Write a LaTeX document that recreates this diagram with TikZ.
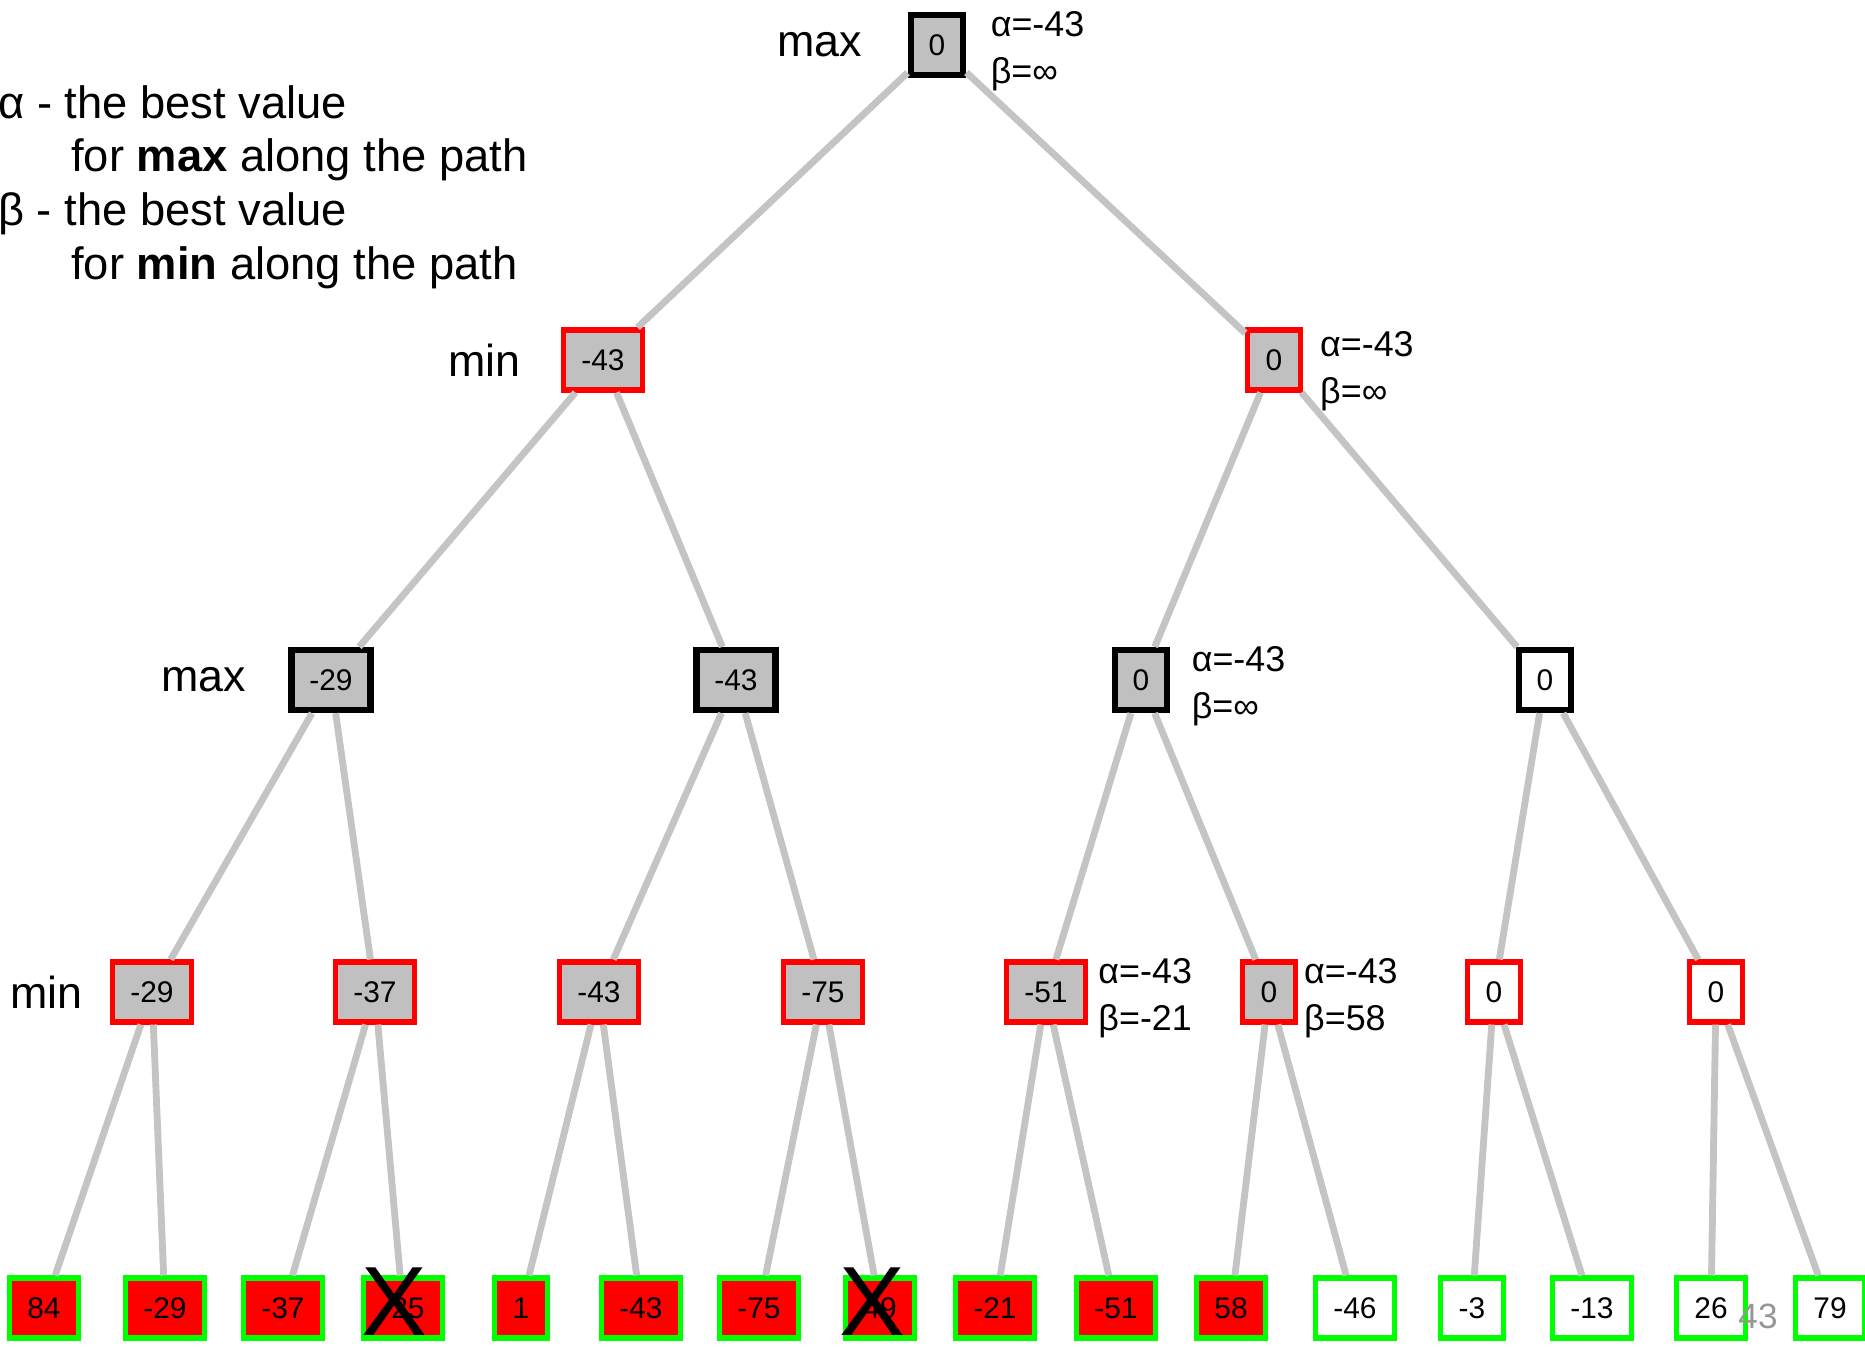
\documentclass[tikz,border=0pt]{standalone}
\usepackage{fontspec}
\setmainfont{Liberation Sans}
\usetikzlibrary{positioning}
\definecolor{boxgray}{RGB}{192,192,192}
\definecolor{linkgray}{RGB}{196,196,196}
\definecolor{leafgreen}{RGB}{0,255,0}
\definecolor{pagegray}{RGB}{150,150,150}
\tikzset{
  box/.style={rectangle, line width=2.9pt, minimum width=1.04cm, minimum height=1.2cm, inner xsep=0.36cm, font=\fontsize{17}{20}\selectfont},
  maxg/.style={box, draw=black, fill=boxgray, line width=3.6pt},
  maxw/.style={box, draw=black, fill=white, line width=3.6pt},
  ming/.style={box, draw=red, fill=boxgray},
  minw/.style={box, draw=red, fill=white},
  leafr/.style={box, draw=leafgreen, fill=red},
  leafw/.style={box, draw=leafgreen, fill=white},
  link/.style={draw=linkgray, line width=3.9pt},
  ab/.style={align=left, inner sep=0pt, yshift=-0.12cm, font=\fontsize{20.4}{26.5}\selectfont},
  lvl/.style={inner sep=0pt, font=\fontsize{25.5}{30}\selectfont},
  cut/.style={inner sep=0pt, font=\fontsize{56}{60}\selectfont}
}
\begin{document}
\begin{tikzpicture}[x=0.02cm, y=-0.02cm]
    \useasboundingbox (0,0) rectangle (1865,1347);
    % legend
    \node[anchor=north west, align=left, inner sep=0pt, font=\fontsize{25.8}{30.6}\selectfont] (key) at (-2,85)
      {α - the best value\\\hspace{1.46cm}for \textbf{max} along the path\\β - the best value\\\hspace{1.46cm}for \textbf{min} along the path};
    % tree
    \node[maxg] (r) at (937,45) {0};
    \node[ming] (a1) at (603,360) {-43};
    \node[ming] (a2) at (1274,360) {0};
    \node[maxg] (b1) at (331,680) {-29};
    \node[maxg] (b2) at (736,680) {-43};
    \node[maxg] (b3) at (1141,680) {0};
    \node[maxw] (b4) at (1545,680) {0};
    \node[ming] (c1) at (152,992) {-29};
    \node[ming] (c2) at (375,992) {-37};
    \node[ming] (c3) at (599,992) {-43};
    \node[ming] (c4) at (823,992) {-75};
    \node[ming] (c5) at (1046,992) {-51};
    \node[ming] (c6) at (1269,992) {0};
    \node[minw] (c7) at (1494,992) {0};
    \node[minw] (c8) at (1716,992) {0};
    \node[leafr] (d1) at (44,1308) {84};
    \node[leafr] (d2) at (165,1308) {-29};
    \node[leafr] (d3) at (283,1308) {-37};
    \node[leafr] (d4) at (403,1308) {-25};
    \node[leafr] (d5) at (521,1308) {1};
    \node[leafr] (d6) at (641,1308) {-43};
    \node[leafr] (d7) at (759,1308) {-75};
    \node[leafr] (d8) at (880,1308) {49};
    \node[leafr] (d9) at (995,1308) {-21};
    \node[leafr] (d10) at (1116,1308) {-51};
    \node[leafr] (d11) at (1231,1308) {58};
    \node[leafw] (d12) at (1355,1308) {-46};
    \node[leafw] (d13) at (1472,1308) {-3};
    \node[leafw] (d14) at (1592,1308) {-13};
    \node[leafw] (d15) at (1711,1308) {26};
    \node[leafw] (d16) at (1830,1308) {79};
    % links
    \draw[link] (r) -- (a1) (r) -- (a2);
    \draw[link] (a1) -- (b1) (a1) -- (b2) (a2) -- (b3) (a2) -- (b4);
    \draw[link] (b1) -- (c1) (b1) -- (c2) (b2) -- (c3) (b2) -- (c4);
    \draw[link] (b3) -- (c5) (b3) -- (c6) (b4) -- (c7) (b4) -- (c8);
    \draw[link] (c1) -- (d1) (c1) -- (d2) (c2) -- (d3) (c2) -- (d4);
    \draw[link] (c3) -- (d5) (c3) -- (d6) (c4) -- (d7) (c4) -- (d8);
    \draw[link] (c5) -- (d9) (c5) -- (d10) (c6) -- (d11) (c6) -- (d12);
    \draw[link] (c7) -- (d13) (c7) -- (d14) (c8) -- (d15) (c8) -- (d16);
    % level names
    \node[lvl, left=0.9cm of r] (lr) {max};
    \node[lvl, left=0.8cm of a1] (la) {min};
    \node[lvl, left=0.84cm of b1] (lb) {max};
    \node[lvl, left=0.54cm of c1] (lc) {min};
    % alpha / beta
    \node[ab, right=0.48cm of r] (abr) {α=-43\\β=∞};
    \node[ab, right=0.34cm of a2, yshift=-0.1cm] (aba) {α=-43\\β=∞};
    \node[ab, right=0.42cm of b3] (abb) {α=-43\\β=∞};
    \node[ab, right=0.2cm of c5] (abc5) {α=-43\\β=-21};
    \node[ab, right=0.12cm of c6] (abc6) {α=-43\\β=58};
    % pruned
    \node[cut, xshift=-0.18cm, yshift=0.12cm] (x1) at (d4) {X};
    \node[cut, xshift=-0.16cm, yshift=0.12cm] (x2) at (d8) {X};
    \node[text=pagegray, inner sep=0pt, font=\fontsize{20}{24}\selectfont] (pg) at (1758,1316) {43};
\end{tikzpicture}
\end{document}
